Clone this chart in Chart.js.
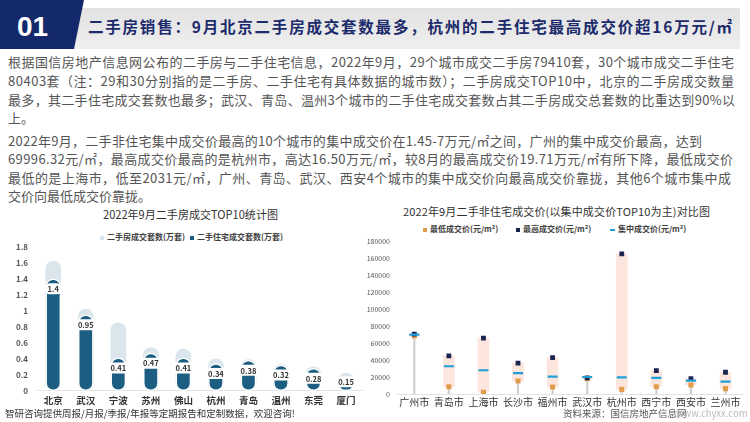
<!DOCTYPE html>
<html>
<head>
<meta charset="utf-8">
<script src="https://cdn.jsdelivr.net/npm/chart.js@4.4.0/dist/chart.umd.min.js"></script>
<style>
    body { margin: 0; width: 750px; height: 422px; overflow: hidden; background: #fff; position: relative;
           font-family: "Noto Sans CJK SC", "Noto Sans", sans-serif; }
    .abs { position: absolute; white-space: nowrap; }
    .para { color: #555; font-size: 13px; line-height: 18px; left: 8px; }
    .ttl { color: #333; font-size: 11.5px; }
    .lg { font-size: 8px; font-weight: bold; color: #404040; }
    .sq { display: inline-block; width: 4px; height: 4px; margin-right: 3px; vertical-align: middle; }
</style>
</head>
<body>
<!-- header band -->
<div class="abs" style="left:0;top:8px;width:740px;height:41px;background:linear-gradient(#e2e2e2,#efefef);clip-path:polygon(80px 0,100% 0,100% 100%,71px 100%);"></div>
<div class="abs" style="left:0;top:0;width:84px;height:49px;background:#14296b;clip-path:polygon(0 0,84px 0,74px 49px,0 49px);"></div>
<div class="abs" style="left:17px;top:7px;font-size:28px;font-weight:bold;color:#fff;line-height:40px;font-family:'Liberation Sans',sans-serif;">01</div>
<div class="abs fit" data-w="644" style="left:88px;top:14px;font-size:15.5px;font-weight:bold;color:#1c2b6b;line-height:24px;">二手房销售：9月北京二手房成交套数最多，杭州的二手住宅最高成交价超16万元/㎡</div>

<!-- body text -->
<div class="abs para fit" data-w="726" style="top:53px;">根据国信房地产信息网公布的二手房与二手住宅信息，2022年9月，29个城市成交二手房79410套，30个城市成交二手住宅</div>
<div class="abs para fit" data-w="726" style="top:72px;">80403套（注：29和30分别指的是二手房、二手住宅有具体数据的城市数）；二手房成交TOP10中，北京的二手房成交数量</div>
<div class="abs para fit" data-w="727" style="top:91px;">最多，其二手住宅成交套数也最多；武汉、青岛、温州3个城市的二手住宅成交套数占其二手房成交总套数的比重达到90%以</div>
<div class="abs para" style="top:109px;">上。</div>
<div class="abs para fit" data-w="694" style="top:132px;">2022年9月，二手非住宅集中成交价最高的10个城市的集中成交价在1.45-7万元/㎡之间，广州的集中成交价最高，达到</div>
<div class="abs para fit" data-w="725" style="top:150px;">69996.32元/㎡，最高成交价最高的是杭州市，高达16.50万元/㎡，较8月的最高成交价19.71万元/㎡有所下降，最低成交价</div>
<div class="abs para fit" data-w="723" style="top:169px;">最低的是上海市，低至2031元/㎡，广州、青岛、武汉、西安4个城市的集中成交价向最高成交价靠拢，其他6个城市集中成</div>
<div class="abs para" style="top:187px;">交价向最低成交价靠拢。</div>

<!-- left chart title + legend -->
<div class="abs ttl fit" data-w="175" style="left:103px;top:206px;">2022年9月二手房成交TOP10统计图</div>
<div class="abs lg" style="left:100px;top:231px;"><span class="sq" style="background:#dbe5ec"></span>二手房成交套数(万套)</div>
<div class="abs lg" style="left:190px;top:231px;"><span class="sq" style="background:#1b5e82"></span>二手住宅成交套数(万套)</div>

<!-- right chart title + legend -->
<div class="abs ttl fit" data-w="307" style="left:403px;top:203px;font-size:11px;">2022年9月二手非住宅成交价(以集中成交价TOP10为主)对比图</div>
<div class="abs lg" style="left:423px;top:223px;"><span class="sq" style="background:#e39b4c"></span>最低成交价(元/m²)</div>
<div class="abs lg" style="left:516px;top:223px;"><span class="sq" style="background:#1b2451"></span>最高成交价(元/m²)</div>
<div class="abs lg" style="left:610px;top:223px;"><span class="sq" style="background:#1e9fd8;height:1.5px;width:5px"></span>集中成交价(元/m²)</div>

<canvas id="chartLeft" class="abs" style="left:0;top:233px;"></canvas>
<canvas id="chartRight" class="abs" style="left:360px;top:230px;"></canvas>

<!-- footer -->
<div class="abs" style="left:5px;top:406px;font-size:9.5px;color:#333;">智研咨询提供周报/月报/季报/年报等定期报告和定制数据，欢迎咨询!</div>
<div class="abs" style="left:563px;top:406px;font-size:9.5px;color:#555;">资料来源：国信房地产信息网</div>
<div class="abs" style="left:676px;top:406px;font-size:9.5px;color:#bbb;">www.chyxx.com</div>

<script>
// left chart: 二手房 TOP10 (万套)
const cities = ['北京', '武汉', '宁波', '苏州', '佛山', '杭州', '青岛', '温州', '东莞', '厦门'];
const secondHandSets = [1.62, 1.02, 0.85, 0.54, 0.52, 0.40, 0.39, 0.33, 0.30, 0.22];
const residentialSets = [1.4, 0.95, 0.41, 0.47, 0.41, 0.34, 0.38, 0.32, 0.28, 0.15];
const leftTicks = [0, 0.2, 0.4, 0.6, 0.8, 1, 1.2, 1.4, 1.6, 1.8];

// right chart: 二手非住宅成交价 (元/㎡)
const districts = ['广州市', '青岛市', '上海市', '长沙市', '福州市', '武汉市', '杭州市', '西宁市', '西安市', '兰州市'];
const minPrice = [68500, 8600, 2031, 15400, 8300, 18000, 5500, 8600, 10600, 6300];
const maxPrice = [70500, 45000, 65800, 36300, 42900, 19000, 165000, 27500, 18100, 25600];
const midPrice = [69996.32, 32700, 28000, 24500, 20500, 20000, 19700, 18900, 15700, 14500];

const FONT = '"Noto Sans CJK SC", "Noto Sans", sans-serif';

// stretch single text lines to the width they have in the slide
const fitLines = () => {
    document.querySelectorAll('.fit').forEach(el => {
        const target = +el.dataset.w;
        const natural = el.getBoundingClientRect().width;
        const n = [...el.textContent].length;
        if (natural > target) {
            el.style.transformOrigin = 'left center';
            el.style.transform = 'scaleX(' + (target / natural) + ')';
        } else if (n > 1) {
            el.style.letterSpacing = ((target - natural) / (n - 1)) + 'px';
        }
    });
};

// white pill labels on the dark bars
const pillLabels = {
    id: 'pillLabels',
    afterDatasetsDraw(chart) {
        const meta = chart.getDatasetMeta(1);
        const ctx = chart.ctx;
        ctx.save();
        ctx.font = 'bold 7.5px ' + FONT;
        ctx.textAlign = 'center';
        ctx.textBaseline = 'middle';
        meta.data.forEach((bar, i) => {
            const txt = String(residentialSets[i]);
            const w = ctx.measureText(txt).width + 7;
            const h = 11;
            const cy = Math.min(bar.y + 10, bar.base - 9);
            ctx.fillStyle = '#fff';
            ctx.beginPath();
            ctx.roundRect(bar.x - w / 2, cy - h / 2, w, h, 5.5);
            ctx.fill();
            ctx.fillStyle = '#333';
            ctx.fillText(txt, bar.x, cy + 0.5);
        });
        ctx.restore();
    }
};

const showLeft = () => {
    const cv = document.getElementById('chartLeft');
    cv.width = 370; cv.height = 177;
    new Chart(cv, {
        type: 'bar',
        data: {
            labels: cities,
            datasets: [
                {
                    label: '二手房成交套数(万套)',
                    data: secondHandSets,
                    backgroundColor: '#dbe5ec',
                    barThickness: 15,
                    borderRadius: 7.5,
                    borderSkipped: false,
                    grouped: false,
                    order: 2
                },
                {
                    label: '二手住宅成交套数(万套)',
                    data: residentialSets,
                    backgroundColor: '#1b5e82',
                    borderColor: '#ffffff',
                    borderWidth: 1.5,
                    barThickness: 15,
                    borderRadius: 7.5,
                    borderSkipped: false,
                    grouped: false,
                    order: 1
                }
            ]
        },
        options: {
            responsive: false,
            animation: false,
            layout: { padding: { top: 0, right: 7.7, left: 0, bottom: 0 } },
            plugins: { legend: { display: false }, tooltip: { enabled: false }, title: { display: false } },
            scales: {
                x: {
                    grid: { display: false, drawTicks: false },
                    border: { display: true, color: '#e3e3e3' },
                    ticks: { color: '#333', padding: 4, maxRotation: 0, minRotation: 0, autoSkip: false,
                             font: { family: FONT, size: 9.5, weight: 'bold' } },
                    afterFit: (scale) => { scale.height = 19.3; }
                },
                y: {
                    min: 0,
                    max: 1.8,
                    afterBuildTicks: (scale) => { scale.ticks = leftTicks.map(v => ({ value: v })); },
                    grid: { display: false, drawTicks: false },
                    border: { display: false },
                    ticks: { color: '#555', padding: 9, callback: v => String(v),
                             font: { family: FONT, size: 8, weight: 'bold' } },
                    afterFit: (scale) => { scale.width = 37; }
                }
            }
        },
        plugins: [pillLabels]
    });
};

const showRight = () => {
    const cv = document.getElementById('chartRight');
    cv.width = 390; cv.height = 180;
    new Chart(cv, {
        type: 'bar',
        data: {
            labels: districts,
            datasets: [
                {
                    label: '集中成交价(元/m²)',
                    type: 'line',
                    data: midPrice,
                    showLine: false,
                    pointStyle: 'line',
                    pointRadius: 5,
                    pointBorderWidth: 2.2,
                    pointBorderColor: '#1e9fd8',
                    borderColor: '#1e9fd8',
                    order: 0
                },
                {
                    label: '最高成交价(元/m²)',
                    type: 'line',
                    data: maxPrice,
                    showLine: false,
                    pointStyle: 'rect',
                    pointRadius: 3.4,
                    pointBorderWidth: 0,
                    pointBackgroundColor: '#1b2451',
                    order: 1
                },
                {
                    label: '最低成交价(元/m²)',
                    type: 'line',
                    data: minPrice,
                    showLine: false,
                    pointStyle: 'rect',
                    pointRadius: 3.6,
                    pointBorderWidth: 0,
                    pointBackgroundColor: '#e39b4c',
                    order: 2
                },
                {
                    label: 'range',
                    data: minPrice.map((v, i) => [v, maxPrice[i]]),
                    backgroundColor: '#fce6de',
                    barThickness: 11,
                    grouped: false,
                    order: 3
                },
                {
                    label: 'drop',
                    data: minPrice.map(v => [0, v]),
                    backgroundColor: '#cfcfcf',
                    barThickness: 1.5,
                    grouped: false,
                    order: 4
                }
            ]
        },
        options: {
            responsive: false,
            animation: false,
            layout: { padding: { top: 0, right: 5, left: 0, bottom: 0 } },
            plugins: { legend: { display: false }, tooltip: { enabled: false }, title: { display: false } },
            scales: {
                x: {
                    grid: { display: false, drawTicks: false },
                    border: { display: true, color: '#e3e3e3' },
                    ticks: { color: '#333', padding: 2, maxRotation: 0, minRotation: 0, autoSkip: false,
                             font: { family: FONT, size: 10 } },
                    afterFit: (scale) => { scale.height = 16; }
                },
                y: {
                    min: 0,
                    max: 180000,
                    ticks: { stepSize: 20000, color: '#555', padding: 7, callback: v => String(v),
                             font: { family: FONT, size: 7 } },
                    grid: { display: false, drawTicks: false },
                    border: { display: false },
                    afterFit: (scale) => { scale.width = 37; }
                }
            }
        }
    });
};

document.fonts.ready.then(() => {
    fitLines();
    showLeft();
    showRight();
});
</script>
</body>
</html>
